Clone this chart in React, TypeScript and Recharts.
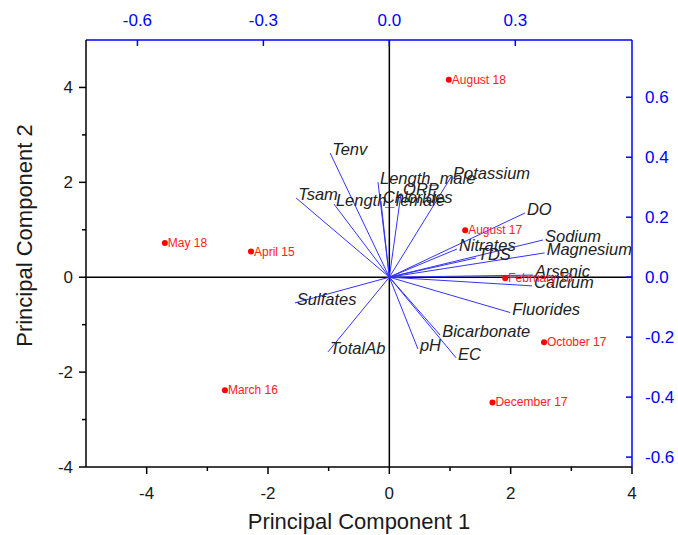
import React from 'react';
import { ScatterChart, Scatter, XAxis, YAxis, ReferenceLine, Label } from 'recharts';

// Scores (samples) on PC1 / PC2
const sampleNames = ['August 18', 'May 18', 'April 15', 'August 17', 'February 18', 'October 17', 'December 17', 'March 16'];
const samplePC1 = [0.98, -3.7, -2.28, 1.25, 1.91, 2.55, 1.7, -2.71];
const samplePC2 = [4.16, 0.72, 0.54, 0.99, -0.02, -1.37, -2.64, -2.38];

// Loadings (variables)
const variableNames = [
  'Tenv', 'Tsam', 'Length_female', 'Length_male', 'Chlorides', 'ORP', 'Potassium', 'DO',
  'Nitrates', 'TDS', 'Sodium', 'Magnesium', 'Arsenic', 'Calcium', 'Fluorides',
  'Bicarbonate', 'EC', 'pH', 'TotalAb', 'Sulfates',
];
const loadingPC1 = [-0.141, -0.222, -0.132, -0.027, -0.02, 0.028, 0.147, 0.323, 0.161, 0.206, 0.366, 0.37, 0.342, 0.34, 0.288, 0.121, 0.159, 0.068, -0.146, -0.225];
const loadingPC2 = [0.414, 0.264, 0.244, 0.317, 0.254, 0.281, 0.334, 0.214, 0.094, 0.064, 0.124, 0.081, 0.007, -0.029, -0.118, -0.193, -0.269, -0.239, -0.249, -0.086];

// Axis ticks
const pc1Ticks = [-4, -3, -2, -1, 0, 1, 2, 3, 4];
const pc2Ticks = [-4, -3, -2, -1, 0, 1, 2, 3, 4];
const loadTopTicks = [-0.6, -0.3, 0, 0.3];
const loadRightTicks = [-0.6, -0.4, -0.2, 0, 0.2, 0.4, 0.6];

const sampleData = sampleNames.map((name, i) => ({ name, x: samplePC1[i], y: samplePC2[i] }));
const loadingData = variableNames.map((name, i) => ({ name, x: loadingPC1[i], y: loadingPC2[i] }));

const BLUE = '#0000ff';
const VEC = '#3333ff';
const INK = '#1a1a1a';

const BottomTick = (props: any) => {
  const { x, y, payload } = props;
  const major = Math.round(payload.value) % 2 === 0;
  return (
    <g>
      <line x1={x} y1={y} x2={x} y2={y + (major ? 7 : 4)} stroke="#000" strokeWidth={1.5} />
      {major && (
        <text x={x} y={y + 32} textAnchor="middle" fontSize={17} fill={INK}>
          {payload.value}
        </text>
      )}
    </g>
  );
};

const LeftTick = (props: any) => {
  const { x, y, payload } = props;
  const major = Math.round(payload.value) % 2 === 0;
  return (
    <g>
      <line x1={x} y1={y} x2={x - (major ? 7 : 4)} y2={y} stroke="#000" strokeWidth={1.5} />
      {major && (
        <text x={x - 13} y={y + 6} textAnchor="end" fontSize={17} fill={INK}>
          {payload.value}
        </text>
      )}
    </g>
  );
};

const TopTick = (props: any) => {
  const { x, y, payload } = props;
  return (
    <g>
      <line x1={x} y1={y} x2={x} y2={y + 6} stroke={BLUE} strokeWidth={1.5} />
      <text x={x} y={y - 14} textAnchor="middle" fontSize={17} fill={BLUE}>
        {Number(payload.value).toFixed(1)}
      </text>
    </g>
  );
};

const RightTick = (props: any) => {
  const { x, y, payload } = props;
  return (
    <g>
      <line x1={x} y1={y} x2={x - 6} y2={y} stroke={BLUE} strokeWidth={1.5} />
      <text x={x + 13} y={y + 6} textAnchor="start" fontSize={17} fill={BLUE}>
        {Number(payload.value).toFixed(1)}
      </text>
    </g>
  );
};

const SampleShape = (props: any) => {
  const { cx, cy, payload } = props;
  return (
    <g>
      <circle cx={cx} cy={cy} r={3} fill="#ff0000" />
      <text x={cx + 3} y={cy + 4} fontSize={12} fill="#ff2020">
        {payload.name}
      </text>
    </g>
  );
};

const VarShape = (props: any) => {
  const { cx, cy, payload } = props;
  return (
    <text x={cx + 2} y={cy + 2} fontSize={16.5} fontStyle="italic" fill="#222">
      {payload.name}
    </text>
  );
};

const YTitle = (props: any) => {
  const { viewBox } = props;
  const cx = 24;
  const cy = viewBox.y + viewBox.height / 2 - 18;
  return (
    <text x={cx} y={cy} transform={`rotate(-90, ${cx}, ${cy})`} textAnchor="middle" dominantBaseline="central" fontSize={22} fill={INK}>
      Principal Component 2
    </text>
  );
};

export default function App() {
  return (
    <div style={{ position: 'absolute', left: 0, top: 0, width: 678, height: 535, background: '#fff', fontFamily: '"Liberation Sans", Arial, sans-serif' }}>
      <ScatterChart width={678} height={535} margin={{ top: 0, right: 0, bottom: 0, left: 0 }}>
        <XAxis
          xAxisId="pc"
          dataKey="x"
          type="number"
          orientation="bottom"
          domain={[-5, 4]}
          allowDataOverflow
          ticks={pc1Ticks}
          interval={0}
          height={68}
          tickSize={0}
          tickMargin={0}
          tickLine={false}
          tick={<BottomTick />}
          axisLine={{ stroke: '#000', strokeWidth: 1.5 }}
        >
          <Label value="Principal Component 1" position="insideBottom" offset={6} fontSize={22} fill={INK} />
        </XAxis>
        <XAxis
          xAxisId="ld"
          dataKey="x"
          type="number"
          orientation="top"
          domain={[-0.7225, 0.578]}
          allowDataOverflow
          ticks={loadTopTicks}
          interval={0}
          height={40}
          tickSize={0}
          tickMargin={0}
          tickLine={false}
          tick={<TopTick />}
          axisLine={{ stroke: BLUE, strokeWidth: 1.5 }}
        />
        <YAxis
          yAxisId="pc"
          dataKey="y"
          type="number"
          orientation="left"
          domain={[-4, 5]}
          allowDataOverflow
          ticks={pc2Ticks}
          interval={0}
          width={86}
          tickSize={0}
          tickMargin={0}
          tickLine={false}
          tick={<LeftTick />}
          axisLine={{ stroke: '#000', strokeWidth: 1.5 }}
        >
          <Label content={<YTitle />} />
        </YAxis>
        <YAxis
          yAxisId="ld"
          dataKey="y"
          type="number"
          orientation="right"
          domain={[-0.633, 0.791]}
          allowDataOverflow
          ticks={loadRightTicks}
          interval={0}
          width={46}
          tickSize={0}
          tickMargin={0}
          tickLine={false}
          tick={<RightTick />}
          axisLine={{ stroke: BLUE, strokeWidth: 1.5 }}
        />
        <ReferenceLine xAxisId="pc" yAxisId="pc" x={0} stroke="#000" strokeWidth={1.5} />
        <ReferenceLine xAxisId="pc" yAxisId="pc" y={0} stroke="#000" strokeWidth={1.5} />
        {loadingData.map((d) => (
          <ReferenceLine
            key={d.name}
            xAxisId="ld"
            yAxisId="ld"
            segment={[{ x: 0, y: 0 }, { x: d.x, y: d.y }]}
            stroke={VEC}
            strokeWidth={1}
          />
        ))}
        <Scatter data={loadingData} xAxisId="ld" yAxisId="ld" shape={<VarShape />} isAnimationActive={false} />
        <Scatter data={sampleData} xAxisId="pc" yAxisId="pc" shape={<SampleShape />} isAnimationActive={false} />
      </ScatterChart>
    </div>
  );
}
